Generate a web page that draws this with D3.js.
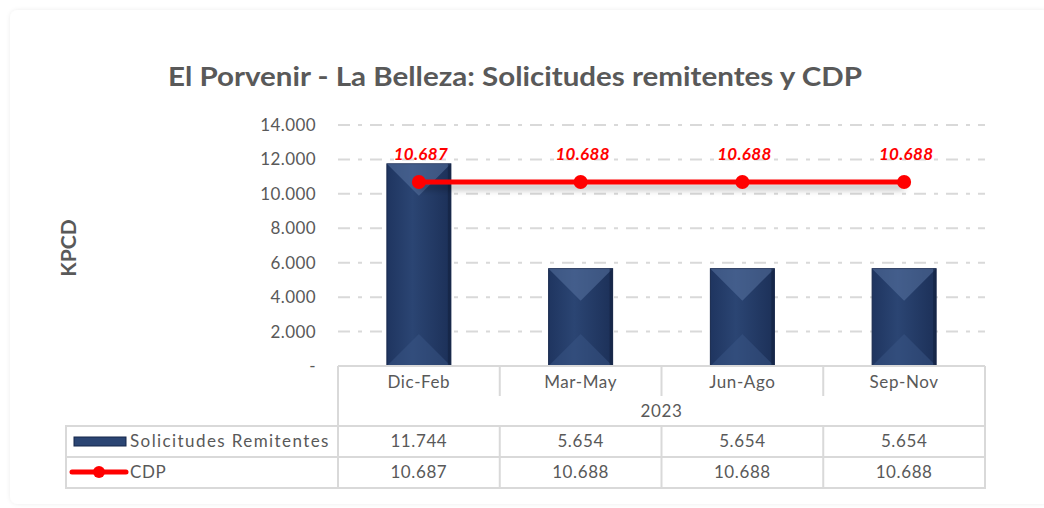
<!DOCTYPE html>
<meta charset="utf-8">
<style>
body { margin: 0; background: #fff; }
* { font-family: "Lato", "Open Sans", sans-serif; }
</style>
<body>
<script src="https://d3js.org/d3.v7.min.js"></script>
<script>
var categories = ["Dic-Feb", "Mar-May", "Jun-Ago", "Sep-Nov"];
var yearLabel = "2023";
var solicitudes = [11744, 5654, 5654, 5654];
var cdp = [10687, 10688, 10688, 10688];
var yTicks = [0, 2000, 4000, 6000, 8000, 10000, 12000, 14000];

var width = 1044, height = 508;
var fmt = function(v) { return v === 0 ? "-" : d3.format(",")(v).replace(/,/g, "."); };
var grey = "#595959", line = "#d9d9d9";

var svg = d3.select("body").append("svg")
    .attr("width", width)
    .attr("height", height);

var defs = svg.append("defs");
var sh = defs.append("filter").attr("id", "shadow").attr("filterUnits", "userSpaceOnUse")
    .attr("x", 300).attr("y", 140).attr("width", 700).attr("height", 90);
sh.append("feDropShadow").attr("dx", 0).attr("dy", 5).attr("stdDeviation", 3).attr("flood-color", "#000").attr("flood-opacity", 0.3);
var card = defs.append("filter").attr("id", "card").attr("x", "-5%").attr("y", "-5%").attr("width", "110%").attr("height", "110%");
card.append("feDropShadow").attr("dx", 0).attr("dy", 0).attr("stdDeviation", 2).attr("flood-color", "#000").attr("flood-opacity", 0.08);
var bg = defs.append("linearGradient").attr("id", "barGrad").attr("x1", 0).attr("x2", 1).attr("y1", 0).attr("y2", 0);
bg.append("stop").attr("offset", "0%").attr("stop-color", "#1f3560");
bg.append("stop").attr("offset", "40%").attr("stop-color", "#2b4573");
bg.append("stop").attr("offset", "100%").attr("stop-color", "#1c3058");

// card
svg.append("rect")
    .attr("x", 10).attr("y", 10).attr("width", 1040).attr("height", 494)
    .attr("rx", 8).attr("fill", "#fff").attr("filter", "url(#card)");

var plot = {left: 338, right: 985, top: 125, bottom: 366};

var x = d3.scaleBand()
    .domain(categories)
    .range([plot.left, plot.right]);

var y = d3.scaleLinear()
    .domain([0, 14000])
    .range([plot.bottom, plot.top]);

// title
svg.append("text")
    .attr("x", 515).attr("y", 86)
    .attr("text-anchor", "middle")
    .attr("fill", grey)
    .style("font-size", "27px")
    .style("font-weight", "bold")
    .attr("textLength", 694)
    .attr("lengthAdjust", "spacingAndGlyphs")
    .text("El Porvenir - La Belleza: Solicitudes remitentes y CDP");

// y label
svg.append("text")
    .attr("transform", "translate(76,248) rotate(-90)")
    .attr("text-anchor", "middle")
    .attr("fill", grey)
    .style("font-size", "21px")
    .style("font-weight", "bold")
    .text("KPCD");

// grid
svg.append("g").selectAll("line")
    .data(yTicks.filter(function(d) { return d > 0; }))
    .enter().append("line")
    .attr("x1", plot.left).attr("x2", plot.right)
    .attr("y1", function(d) { return y(d); })
    .attr("y2", function(d) { return y(d); })
    .attr("stroke", line)
    .attr("stroke-width", 2)
    .attr("stroke-dasharray", "12,8,4,8");

// y axis
var yAxis = svg.append("g")
    .attr("transform", "translate(" + plot.left + ",0)")
    .call(d3.axisLeft(y).tickValues(yTicks).tickFormat(fmt).tickSize(0).tickPadding(22));
yAxis.select(".domain").remove();
yAxis.selectAll("text")
    .attr("fill", grey)
    .style("font-size", "17px")
    .style("letter-spacing", "0.4px")
    .style("font-family", "Lato, sans-serif");

// bars
var bw = 64;
var bars = svg.append("g").selectAll("g")
    .data(solicitudes)
    .enter().append("g");

bars.each(function(d, i) {
  var g = d3.select(this);
  var x0 = x(categories[i]) + x.bandwidth() / 2 - bw / 2, x1 = x0 + bw;
  var y0 = y(d), y1 = y(0);
  var h = bw / 2;
  g.append("rect").attr("x", x0).attr("y", y0).attr("width", bw).attr("height", y1 - y0)
      .attr("fill", "url(#barGrad)").attr("stroke", "#15264a").attr("stroke-width", 1);
  g.append("path").attr("d", "M" + x0 + "," + y0 + "L" + x1 + "," + y0 + "L" + (x0 + bw / 2) + "," + (y0 + h) + "Z")
      .attr("fill", "#5872a0").attr("opacity", 0.55);
  g.append("path").attr("d", "M" + x0 + "," + y1 + "L" + x1 + "," + y1 + "L" + (x0 + bw / 2) + "," + (y1 - h) + "Z")
      .attr("fill", "#3a5686").attr("opacity", 0.5);
  g.append("rect").attr("x", x1 - 3).attr("y", y0).attr("width", 3).attr("height", y1 - y0)
      .attr("fill", "#13213f").attr("opacity", 0.6);
});

// cdp line
var lineGen = d3.line()
    .x(function(d, i) { return x(categories[i]) + x.bandwidth() / 2; })
    .y(function(d) { return y(d); });

svg.append("path")
    .datum(cdp)
    .attr("d", lineGen)
    .attr("fill", "none")
    .attr("stroke", "#ff0000")
    .attr("stroke-width", 5)
    .attr("filter", "url(#shadow)");

svg.append("g").selectAll("circle")
    .data(cdp)
    .enter().append("circle")
    .attr("cx", function(d, i) { return x(categories[i]) + x.bandwidth() / 2; })
    .attr("cy", function(d) { return y(d); })
    .attr("r", 7)
    .attr("fill", "#ff0000");

svg.append("g").selectAll("text")
    .data(cdp)
    .enter().append("text")
    .attr("x", function(d, i) { return x(categories[i]) + x.bandwidth() / 2 + 2; })
    .attr("y", function(d) { return y(d) - 22; })
    .attr("text-anchor", "middle")
    .attr("fill", "#ff0000")
    .style("font-size", "17px")
    .style("font-weight", "bold")
    .style("font-style", "italic")
    .style("letter-spacing", "0.3px")
    .text(fmt);

// data table
var t = {left: 66, catTop: 366, yearBottom: 426, row1: 457, row2: 488};
var tbl = svg.append("g").attr("stroke", line).attr("stroke-width", 2).attr("fill", "none");
tbl.append("line").attr("x1", plot.left).attr("x2", plot.right).attr("y1", t.catTop).attr("y2", t.catTop);
tbl.append("line").attr("x1", plot.left).attr("x2", plot.left).attr("y1", t.catTop).attr("y2", t.row2);
tbl.append("line").attr("x1", plot.right).attr("x2", plot.right).attr("y1", t.catTop).attr("y2", t.row2);
tbl.append("rect").attr("x", t.left).attr("y", t.yearBottom).attr("width", plot.right - t.left).attr("height", t.row2 - t.yearBottom);
tbl.append("line").attr("x1", t.left).attr("x2", plot.right).attr("y1", t.row1).attr("y2", t.row1);
categories.forEach(function(c, i) {
  if (i > 0) {
    tbl.append("line").attr("x1", x(c)).attr("x2", x(c)).attr("y1", t.catTop).attr("y2", t.catTop + 30);
  }
  tbl.append("line").attr("x1", x(c)).attr("x2", x(c)).attr("y1", t.yearBottom).attr("y2", t.row2);
});

var txt = svg.append("g").attr("fill", grey).style("font-size", "17px").style("letter-spacing", "0.6px");
categories.forEach(function(c, i) {
  var cx = x(c) + x.bandwidth() / 2;
  txt.append("text").attr("x", cx).attr("y", 388).attr("text-anchor", "middle").text(c);
  txt.append("text").attr("x", cx).attr("y", 447).attr("text-anchor", "middle").text(fmt(solicitudes[i]));
  txt.append("text").attr("x", cx).attr("y", 478).attr("text-anchor", "middle").text(fmt(cdp[i]));
});
txt.append("text").attr("x", (plot.left + plot.right) / 2).attr("y", 417).attr("text-anchor", "middle").text(yearLabel);
txt.append("text").attr("x", 130).attr("y", 447).attr("textLength", 199).text("Solicitudes Remitentes");
txt.append("text").attr("x", 130).attr("y", 478).text("CDP");

// legend keys
svg.append("rect").attr("x", 74).attr("y", 437).attr("width", 52).attr("height", 9)
    .attr("fill", "#2b4573").attr("stroke", "#15264a");
svg.append("line").attr("x1", 72).attr("x2", 126).attr("y1", 472).attr("y2", 472)
    .attr("stroke", "#ff0000").attr("stroke-width", 5).attr("stroke-linecap", "round");
svg.append("circle").attr("cx", 99).attr("cy", 472).attr("r", 6).attr("fill", "#ff0000");
</script>
